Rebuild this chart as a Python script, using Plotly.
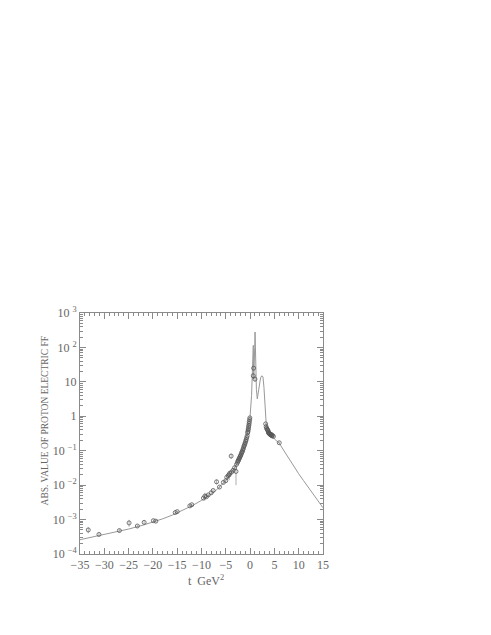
import plotly.graph_objects as go

# Theoretical curve
curve_t = [-35, -32, -30, -27, -25, -22, -20, -18, -16, -14, -12, -10, -9, -8, -7, -6, -5, -4, -3, -2, -1.5, -1, -0.5, -0.2, 0,
           0.3, 0.55, 0.63, 0.66, 0.69, 0.75, 0.85, 0.95, 1.02, 1.07, 1.15, 1.3, 1.48, 1.65, 1.9, 2.15, 2.4, 2.65, 2.85, 3.05,
           3.3, 3.5, 3.8, 4.2, 5, 6, 7, 8, 9, 10, 11, 12, 13, 14, 15]
curve_v = [2.6e-4, 3.2e-4, 3.6e-4, 4.5e-4, 5.3e-4, 6.9e-4, 8.4e-4, 1.05e-3, 1.35e-3, 1.8e-3, 2.5e-3, 3.6e-3, 4.4e-3, 5.5e-3,
           7.1e-3, 9.5e-3, 0.0135, 0.021, 0.036, 0.07, 0.105, 0.17, 0.35, 0.62, 1.0,
           4, 40, 80, 115, 40, 12, 25, 100, 280, 100, 20, 6, 3.2, 4.5, 9, 13, 15, 14, 7, 2,
           0.65, 0.45, 0.36, 0.3, 0.22, 0.166, 0.098, 0.0575, 0.0347, 0.0214, 0.0135, 0.0085, 0.0054, 0.0035, 0.0022]

# Measured data points
data_t = [-33.3, -31.1, -26.9, -24.9, -23.2, -21.8, -19.9, -19.4, -15.4, -15.0, -12.4, -12.0,
          -9.6, -9.3, -9.0, -8.6, -8.0, -7.6, -6.9, -6.3, -5.5, -5.0, -4.8, -4.5, -4.3, -4.2, -3.9, -3.8,
          -3.5, -3.2, -2.9, -2.8, -2.6, -2.5, -2.4, -2.3, -2.2, -2.1, -2.0, -1.9, -1.8, -1.7, -1.6, -1.5,
          -1.4, -1.3, -1.2, -1.1, -1.0, -0.9, -0.8, -0.7, -0.6, -0.5, -0.45, -0.4, -0.35, -0.3, -0.25,
          -0.2, -0.15, -0.1, -0.05,
          0.65, 0.72, 1.0,
          3.2, 3.3, 3.4, 3.5, 3.6, 3.7, 3.75, 3.8, 3.9, 4.0, 4.1, 4.2, 4.3, 4.4, 4.5, 4.6, 4.8, 6.0]
data_v = [5.0e-4, 3.7e-4, 4.8e-4, 8.0e-4, 6.5e-4, 8.3e-4, 9.3e-4, 9.0e-4, 1.6e-3, 1.7e-3, 2.5e-3, 2.7e-3,
          4.2e-3, 4.8e-3, 4.6e-3, 5.2e-3, 6.0e-3, 7.0e-3, 0.0125, 8.8e-3, 0.012, 0.0135, 0.017, 0.019, 0.02, 0.022, 0.07, 0.024,
          0.027, 0.032, 0.025, 0.04, 0.045, 0.05, 0.052, 0.058, 0.06, 0.066, 0.07, 0.075, 0.082, 0.09, 0.095, 0.105,
          0.115, 0.13, 0.14, 0.155, 0.17, 0.19, 0.21, 0.24, 0.27, 0.33, 0.36, 0.4, 0.44, 0.5, 0.55,
          0.62, 0.7, 0.8, 0.9,
          15, 25, 12,
          0.6, 0.5, 0.45, 0.42, 0.4, 0.38, 0.35, 0.33, 0.32, 0.31, 0.3, 0.29, 0.3, 0.28, 0.27, 0.28, 0.26, 0.17]
data_err = [1.0e-4, 0.4e-4, 0.5e-4, 1.8e-4, 0.6e-4, 1.2e-4, 0.8e-4, 0.7e-4, 0.1e-3, 0.1e-3, 0.15e-3, 0.2e-3,
            0.3e-3, 1.2e-3, 0.4e-3, 0.4e-3, 0.5e-3, 0.6e-3, 0.002, 0.8e-3, 0.001, 0.001, 0.0015, 0.0015, 0.006, 0.002, 0.012, 0.002,
            0.002, 0.003, 0.015, 0.003, 0.003, 0.003, 0.004, 0.004, 0.004, 0.004, 0.005, 0.005, 0.005, 0.005, 0.006, 0.006,
            0.006, 0.007, 0.007, 0.007, 0.008, 0.008, 0.01, 0.01, 0.01, 0.012, 0.012, 0.014, 0.015, 0.016, 0.018,
            0.02, 0.02, 0.02, 0.02,
            3, 4, 2,
            0.03, 0.03, 0.03, 0.02, 0.02, 0.02, 0.02, 0.02, 0.02, 0.02, 0.02, 0.02, 0.02, 0.02, 0.02, 0.02, 0.02, 0.015]

x_ticks = [-35, -30, -25, -20, -15, -10, -5, 0, 5, 10, 15]
y_tickvals = [1e-4, 1e-3, 1e-2, 1e-1, 1, 10, 100, 1000]
y_ticktext = ["10 <sup>−4</sup>", "10 <sup>−3</sup>", "10 <sup>−2</sup>", "10 <sup>−1</sup>", "1", "10",
              "10 <sup>2</sup>", "10 <sup>3</sup>"]
x_title = "t  GeV<sup>2</sup>"
y_title = "ABS. VALUE OF PROTON ELECTRIC FF"

grey = "#8a8a8a"
font = dict(family="Liberation Serif", size=12, color="#666666")

fig = go.Figure()
fig.add_trace(go.Scatter(x=curve_t, y=curve_v, mode="lines",
                         line=dict(color="#999999", width=1), hoverinfo="skip"))
fig.add_trace(go.Scatter(x=data_t, y=data_v, mode="markers",
                         marker=dict(symbol="circle-open", size=4, color="#555555", line=dict(width=0.8)),
                         error_y=dict(type="data", array=data_err, color="#999999", thickness=0.8, width=0)))

fig.update_layout(
    width=491, height=635,
    margin=dict(l=72, r=176, t=305, b=89),
    paper_bgcolor="white", plot_bgcolor="white",
    showlegend=False, font=font,
    annotations=[
        dict(text=y_title, xref="paper", yref="paper", x=0, y=0.55, xanchor="center", yanchor="middle",
             xshift=-35, textangle=-90, showarrow=False,
             font=dict(family="Liberation Serif", size=9.5, color="#666666")),
        dict(text=x_title, xref="paper", yref="paper", x=0.52, y=0, xanchor="center", yanchor="top",
             yshift=-17, showarrow=False, font=font),
    ],
)
fig.update_xaxes(range=[-35, 15], tickvals=x_ticks, ticks="inside", ticklen=6, tickcolor=grey,
                 showline=True, linecolor=grey, linewidth=1, mirror="ticks", showgrid=False, zeroline=False,
                 automargin=False,
                 minor=dict(dtick=1, ticks="inside", ticklen=3, tickcolor=grey, showgrid=False),
                 tickfont=font)
fig.update_yaxes(type="log", range=[-4, 3], tickvals=y_tickvals, ticktext=y_ticktext, ticks="inside",
                 ticklen=6, tickcolor=grey, showline=True, linecolor=grey, linewidth=1, mirror="ticks",
                 showgrid=False, zeroline=False, automargin=False,
                 minor=dict(dtick="D1", ticks="inside", ticklen=3, tickcolor=grey, showgrid=False),
                 tickfont=font)

fig.write_html("out.html")
